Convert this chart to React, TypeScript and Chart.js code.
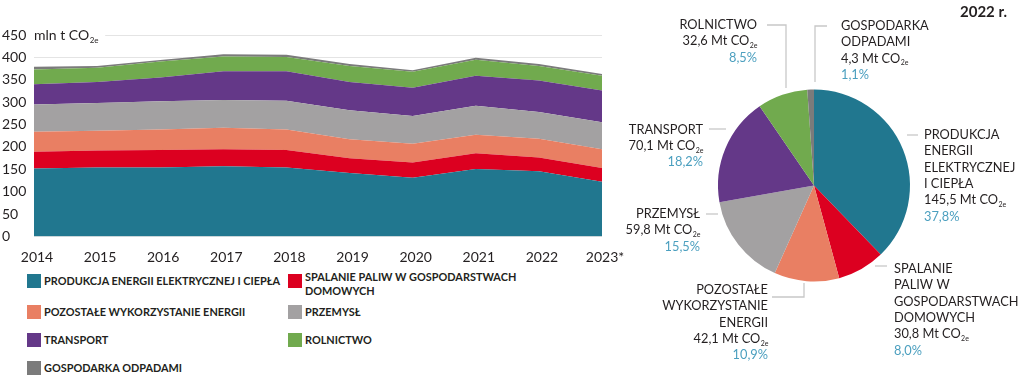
import React, { useEffect, useRef } from "react";
import { Chart, registerables } from "chart.js";
Chart.register(...registerables);

// ---------- DATA ----------
const years = ["2014", "2015", "2016", "2017", "2018", "2019", "2020", "2021", "2022", "2023*"];
const yTicks = [0, 50, 100, 150, 200, 250, 300, 350, 400, 450];

const seriesNames = [
  "PRODUKCJA ENERGII ELEKTRYCZNEJ I CIEPŁA",
  "SPALANIE PALIW W GOSPODARSTWACH\nDOMOWYCH",
  "POZOSTAŁE WYKORZYSTANIE ENERGII",
  "PRZEMYSŁ",
  "TRANSPORT",
  "ROLNICTWO",
  "GOSPODARKA ODPADAMI",
];
const seriesColors = ["#21778f", "#dc0020", "#e97f63", "#a3a1a2", "#643888", "#71aa4e", "#7b7b7b"];

const energyProduction = [152, 154, 154, 157, 154, 142, 131, 151, 145.5, 122];
const householdFuel = [37, 38, 39, 38, 39, 33, 34, 35, 30.8, 31];
const otherEnergyUse = [45, 44, 46, 48, 46, 42, 42, 41, 42.1, 42];
const industry = [61, 62, 63, 62, 64, 65, 62, 65, 59.8, 60];
const transport = [45, 47, 53, 64, 66, 63, 63, 67, 70.1, 71];
const agriculture = [33, 32, 36, 33, 32, 36, 36, 36, 32.6, 33];
const waste = [6, 4, 3, 5, 5, 4, 3, 4, 4.3, 4];
const seriesValues = [energyProduction, householdFuel, otherEnergyUse, industry, transport, agriculture, waste];

const pieYear = "2022 r.";
const pieValues = [145.5, 30.8, 42.1, 59.8, 70.1, 32.6, 4.3];
const pieNameLines = [
  ["PRODUKCJA", "ENERGII", "ELEKTRYCZNEJ", "I CIEPŁA"],
  ["SPALANIE", "PALIW W", "GOSPODARSTWACH", "DOMOWYCH"],
  ["POZOSTAŁE", "WYKORZYSTANIE", "ENERGII"],
  ["PRZEMYSŁ"],
  ["TRANSPORT"],
  ["ROLNICTWO"],
  ["GOSPODARKA", "ODPADAMI"],
];

// ---------- LAYOUT / STYLE ----------
const TEXT = "#231f20";
const PCT = "#4b9fbf";
const LEADER = "#c8c8c8";
const FONT = "Lato, 'Noto Sans', sans-serif";
const PIE_LEFT = 620;
const pieLabelLayout: { x: number; y: number; align: "left" | "right"; leader: number[][] }[] = [
  { x: 924, y: 135, align: "left", leader: [[907, 135], [918, 135]] },
  { x: 894, y: 269, align: "left", leader: [[875, 266], [887, 266]] },
  { x: 768, y: 290, align: "right", leader: [[772, 297], [804, 297], [804, 283]] },
  { x: 700, y: 214, align: "right", leader: [[706, 214], [718, 214]] },
  { x: 703, y: 129.5, align: "right", leader: [[709, 129], [726, 129]] },
  { x: 757, y: 25, align: "right", leader: [[767, 25], [786, 25], [786, 88]] },
  { x: 841, y: 26, align: "left", leader: [[827, 26], [815, 26], [815, 82]] },
];
const PIE_LINE_H = 16.3;
const PIE_FONT = 12.8;
const legendCols = [27, 288];
const legendRowTops = [274, 305, 333, 361];

const fmt = (v: number) => v.toFixed(1).replace(".", ",");

function drawSub(
  ctx: CanvasRenderingContext2D,
  main: string,
  sub: string,
  x: number,
  y: number,
  align: "left" | "right",
  size: number,
  color: string
) {
  const mainFont = `${size}px ${FONT}`;
  const subFont = `${Math.round(size * 0.58)}px ${FONT}`;
  ctx.font = mainFont;
  const w1 = ctx.measureText(main).width;
  ctx.font = subFont;
  const w2 = ctx.measureText(sub).width;
  const sx = align === "right" ? x - w1 - w2 : x;
  ctx.fillStyle = color;
  ctx.textAlign = "left";
  ctx.textBaseline = "middle";
  ctx.font = mainFont;
  ctx.fillText(main, sx, y);
  ctx.font = subFont;
  ctx.fillText(sub, sx + w1 + 0.5, y + size * 0.36);
  return w1 + w2;
}

const unitLabelPlugin = {
  id: "unitLabel",
  afterDraw(chart: any) {
    const ctx = chart.ctx as CanvasRenderingContext2D;
    const y = chart.scales.y.getPixelForValue(450);
    const x = chart.chartArea.left;
    ctx.save();
    ctx.font = `14px ${FONT}`;
    const w = ctx.measureText("mln t CO").width + 12;
    ctx.fillStyle = "#fff";
    ctx.fillRect(x - 1, y - 3, w + 5, 6);
    drawSub(ctx, "mln t CO", "2e", x, y, "left", 14, TEXT);
    ctx.restore();
  },
};

const pieLabelPlugin = {
  id: "pieLabels",
  afterDraw(chart: any) {
    const ctx = chart.ctx as CanvasRenderingContext2D;
    const total = pieValues.reduce((a, b) => a + b, 0);
    ctx.save();
    ctx.font = `bold 15px ${FONT}`;
    ctx.fillStyle = TEXT;
    ctx.textAlign = "right";
    ctx.textBaseline = "middle";
    ctx.fillText(pieYear, 1007 - PIE_LEFT, 12);
    pieLabelLayout.forEach((lay, i) => {
      ctx.strokeStyle = LEADER;
      ctx.lineWidth = 1.3;
      ctx.beginPath();
      lay.leader.forEach((p, k) => {
        const px = p[0] - PIE_LEFT;
        if (k === 0) ctx.moveTo(px, p[1]);
        else ctx.lineTo(px, p[1]);
      });
      ctx.stroke();
      const x = lay.x - PIE_LEFT;
      let y = lay.y;
      ctx.textBaseline = "middle";
      pieNameLines[i].forEach((ln) => {
        ctx.font = `${PIE_FONT}px ${FONT}`;
        ctx.fillStyle = TEXT;
        ctx.textAlign = lay.align;
        ctx.fillText(ln, x, y);
        y += PIE_LINE_H;
      });
      drawSub(ctx, `${fmt(pieValues[i])} Mt CO`, "2e", x, y, lay.align, PIE_FONT, TEXT);
      y += PIE_LINE_H;
      ctx.font = `${PIE_FONT}px ${FONT}`;
      ctx.fillStyle = PCT;
      ctx.textAlign = lay.align;
      ctx.fillText(`${fmt((pieValues[i] / total) * 100)}%`, x, y);
    });
    ctx.restore();
  },
};

export default function App() {
  const areaRef = useRef<HTMLCanvasElement>(null);
  const pieRef = useRef<HTMLCanvasElement>(null);

  useEffect(() => {
    Chart.defaults.font.family = FONT;
    Chart.defaults.color = TEXT;
    const area = new Chart(areaRef.current!, {
      type: "line",
      data: {
        labels: years,
        datasets: seriesValues.map((vals, i) => ({
          label: seriesNames[i],
          data: vals,
          backgroundColor: seriesColors[i],
          borderColor: seriesColors[i],
          borderWidth: 0,
          pointRadius: 0,
          tension: 0,
          fill: i === 0 ? "origin" : "-1",
        })),
      },
      options: {
        animation: false,
        responsive: true,
        maintainAspectRatio: false,
        layout: { padding: { left: 0, right: 28, top: 35, bottom: 0 } },
        plugins: { legend: { display: false }, tooltip: { enabled: false } },
        scales: {
          x: {
            grid: { display: false },
            border: { display: false },
            ticks: { font: { size: 14 }, color: TEXT, padding: 5, labelOffset: 3, maxRotation: 0, autoSkip: false },
            afterFit: (s: any) => {
              s.height = 25.5;
            },
          },
          y: {
            stacked: true,
            min: 0,
            max: 450,
            afterBuildTicks: (s: any) => {
              s.ticks = yTicks.map((v) => ({ value: v }));
            },
            grid: { color: "#e4e4e4", lineWidth: 1, drawTicks: false },
            border: { display: false },
            ticks: { font: { size: 14 }, color: TEXT, crossAlign: "far", padding: 0 },
            afterFit: (s: any) => {
              s.width = 32;
            },
          },
        },
      },
      plugins: [unitLabelPlugin],
    } as any);

    const pie = new Chart(pieRef.current!, {
      type: "pie",
      data: {
        labels: pieNameLines.map((l) => l.join(" ")),
        datasets: [{ data: pieValues, backgroundColor: seriesColors, borderWidth: 0 }],
      },
      options: {
        animation: false,
        responsive: true,
        maintainAspectRatio: false,
        layout: { padding: { left: 98, right: 114, top: 89.5, bottom: 104.5 } },
        plugins: { legend: { display: false }, tooltip: { enabled: false } },
      },
      plugins: [pieLabelPlugin],
    } as any);

    return () => {
      area.destroy();
      pie.destroy();
    };
  }, []);

  return (
    <div
      style={{
        position: "fixed",
        left: 0,
        top: 0,
        width: 1024,
        height: 386,
        background: "#fff",
        overflow: "hidden",
        fontFamily: FONT,
      }}
    >
      <div style={{ position: "absolute", left: 2, top: 0, width: 628, height: 262 }}>
        <canvas ref={areaRef} />
      </div>
      <div style={{ position: "absolute", left: PIE_LEFT, top: 0, width: 404, height: 386 }}>
        <canvas ref={pieRef} />
      </div>
      {seriesNames.map((name, i) => {
        const col = i % 2;
        const row = Math.floor(i / 2);
        const top = legendRowTops[row];
        const lines = name.split("\n").length;
        return (
          <div key={i}>
            <div
              style={{
                position: "absolute",
                left: legendCols[col],
                top,
                width: 14,
                height: 14,
                background: seriesColors[i],
              }}
            />
            <div
              style={{
                position: "absolute",
                left: legendCols[col] + 17,
                top: top - 0.5 - (lines > 1 ? 4 : 0),
                fontSize: 10.9,
                lineHeight: "14.5px",
                fontWeight: 700,
                color: TEXT,
                whiteSpace: "pre",
              }}
            >
              {name}
            </div>
          </div>
        );
      })}
    </div>
  );
}
